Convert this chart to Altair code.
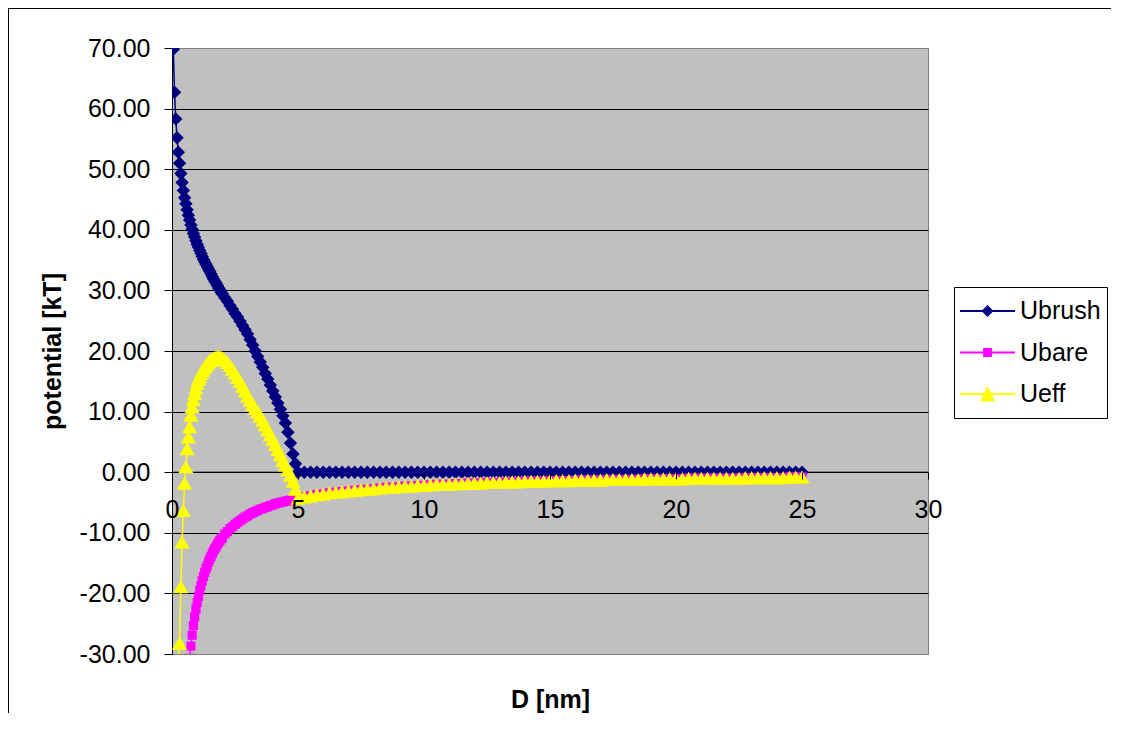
import altair as alt
import pandas as pd

# ---- data ----
D = [0.05, 0.1, 0.15, 0.2, 0.25, 0.3, 0.35, 0.4, 0.45, 0.5,
     0.55, 0.6, 0.65, 0.7, 0.75, 0.8, 0.85, 0.9, 0.95, 1.0,
     1.05, 1.1, 1.15, 1.2, 1.25, 1.3, 1.35, 1.4, 1.45, 1.5,
     1.55, 1.6, 1.65, 1.7, 1.75, 1.8, 1.85, 1.9, 1.95, 2.0,
     2.1, 2.2, 2.3, 2.4, 2.5, 2.6, 2.7, 2.8, 2.9, 3.0,
     3.1, 3.2, 3.3, 3.4, 3.5, 3.6, 3.7, 3.8, 3.9, 4.0,
     4.1, 4.2, 4.3, 4.4, 4.5, 4.6, 4.7, 4.8, 4.9, 5.0,
     5.25, 5.5, 5.75, 6.0, 6.25, 6.5, 6.75, 7.0, 7.25, 7.5,
     7.75, 8.0, 8.25, 8.5, 8.75, 9.0, 9.25, 9.5, 9.75, 10.0,
     10.25, 10.5, 10.75, 11.0, 11.25, 11.5, 11.75, 12.0, 12.25, 12.5,
     12.75, 13.0, 13.25, 13.5, 13.75, 14.0, 14.25, 14.5, 14.75, 15.0,
     15.25, 15.5, 15.75, 16.0, 16.25, 16.5, 16.75, 17.0, 17.25, 17.5,
     17.75, 18.0, 18.25, 18.5, 18.75, 19.0, 19.25, 19.5, 19.75, 20.0,
     20.25, 20.5, 20.75, 21.0, 21.25, 21.5, 21.75, 22.0, 22.25, 22.5,
     22.75, 23.0, 23.25, 23.5, 23.75, 24.0, 24.25, 24.5, 24.75, 25.0]

ubrush = [69.8, 62.7, 58.3, 55.2, 52.8, 51.0, 49.3, 47.8, 46.5, 45.3,
          44.3, 43.3, 42.4, 41.6, 40.8, 40.1, 39.4, 38.8, 38.2, 37.6,
          37.1, 36.6, 36.1, 35.6, 35.1, 34.7, 34.3, 33.9, 33.5, 33.1,
          32.7, 32.3, 31.9, 31.5, 31.2, 30.8, 30.4, 30.1, 29.7, 29.4,
          28.8, 28.2, 27.5, 26.9, 26.2, 25.6, 24.9, 24.2, 23.5, 22.8,
          21.9, 21.0, 20.0, 19.1, 18.2, 17.3, 16.3, 15.4, 14.4, 13.4,
          12.4, 11.4, 10.4, 9.3, 8.1, 6.6, 4.8, 3.0, 1.4, 0.0,
          0.0, 0.0, 0.0, 0.0, 0.0, 0.0, 0.0, 0.0, 0.0, 0.0,
          0.0, 0.0, 0.0, 0.0, 0.0, 0.0, 0.0, 0.0, 0.0, 0.0,
          0.0, 0.0, 0.0, 0.0, 0.0, 0.0, 0.0, 0.0, 0.0, 0.0,
          0.0, 0.0, 0.0, 0.0, 0.0, 0.0, 0.0, 0.0, 0.0, 0.0,
          0.0, 0.0, 0.0, 0.0, 0.0, 0.0, 0.0, 0.0, 0.0, 0.0,
          0.0, 0.0, 0.0, 0.0, 0.0, 0.0, 0.0, 0.0, 0.0, 0.0,
          0.0, 0.0, 0.0, 0.0, 0.0, 0.0, 0.0, 0.0, 0.0, 0.0,
          0.0, 0.0, 0.0, 0.0, 0.0, 0.0, 0.0, 0.0, 0.0, 0.0]

# Ubare starts at D = 0.65 (index 12)
ubare_near = [-33.1, -30.7, -28.7, -26.9, -25.3, -23.9, -22.6, -21.5,
              -20.5, -19.5, -18.7, -17.9, -17.2, -16.5, -15.9, -15.4, -14.8, -14.3,
              -13.9, -13.4, -13.0, -12.6, -12.3, -11.9, -11.6, -11.3, -11.0, -10.8,
              -10.2, -9.8, -9.3, -9.0, -8.6, -8.3, -8.0, -7.7, -7.4, -7.2,
              -6.9, -6.7, -6.5, -6.3, -6.1, -6.0, -5.8, -5.7, -5.5, -5.4,
              -5.2, -5.1, -5.0, -4.9, -4.8, -4.7, -4.6, -4.5, -4.4, -4.3]

# beyond D = 5 Ubare and Ueff coincide
far_tail = [-4.1, -3.9, -3.7, -3.6, -3.4, -3.3, -3.2, -3.1, -3.0, -2.9,
            -2.8, -2.7, -2.6, -2.5, -2.5, -2.4, -2.3, -2.3, -2.2, -2.2,
            -2.1, -2.0, -2.0, -2.0, -1.9, -1.9, -1.8, -1.8, -1.8, -1.7,
            -1.7, -1.7, -1.6, -1.6, -1.6, -1.5, -1.5, -1.5, -1.5, -1.4,
            -1.4, -1.4, -1.4, -1.3, -1.3, -1.3, -1.3, -1.3, -1.2, -1.2,
            -1.2, -1.2, -1.2, -1.2, -1.1, -1.1, -1.1, -1.1, -1.1, -1.1,
            -1.1, -1.0, -1.0, -1.0, -1.0, -1.0, -1.0, -1.0, -1.0, -1.0,
            -0.9, -0.9, -0.9, -0.9, -0.9, -0.9, -0.9, -0.8, -0.8, -0.8]

# Ueff starts at D = 0.25 (index 4)
ueff_near = [-31.5, -28.2, -18.9, -11.5, -6.3, -1.8, 0.9, 3.9, 5.8, 7.5,
             9.4, 10.8, 12.0, 13.0, 13.9, 14.7, 15.3, 15.8, 16.3, 16.7,
             17.1, 17.4, 17.7, 17.95, 18.2, 18.4, 18.55, 18.7, 18.8, 18.9,
             18.95, 19.0, 19.0, 19.0, 18.95, 18.85,
             18.5, 18.1, 17.6, 17.0, 16.4, 15.7, 15.0, 14.2, 13.4, 12.6,
             11.9, 11.2, 10.6, 10.0, 9.3, 8.6, 7.8, 7.0, 6.2, 5.4,
             4.6, 3.7, 2.9, 2.0, 1.2, 0.4, -0.5, -1.5, -2.8, -4.3]

series_names = ["Ubrush", "Ubare", "Ueff"]
series_colors = ["#000080", "#FF00FF", "#FFFF00"]
x_ticks = [0, 5, 10, 15, 20, 25, 30]
y_ticks = [-30, -20, -10, 0, 10, 20, 30, 40, 50, 60, 70]

df_brush = pd.DataFrame({"D": D, "U": ubrush})
df_bare = pd.DataFrame({"D": D[12:], "U": ubare_near + far_tail})
df_eff = pd.DataFrame({"D": D[4:], "U": ueff_near + far_tail})
df_leg = pd.DataFrame({"series": series_names})
df_one = pd.DataFrame({"k": [0]})

FONT = "Liberation Sans"

xs = alt.Scale(domain=[0, 30], nice=False, zero=False)
ys = alt.Scale(domain=[-30, 70], nice=False, zero=False)

x_axis = alt.Axis(values=x_ticks, format="d", offset=-182, domain=False,
                  tickSize=7, tickColor="black", labelPadding=18, labelFlush=False,
                  grid=False, zindex=1, title="D [nm]",
                  titleX=378, titleY=235, titleBaseline="alphabetic",
                  titleAlign="center")
y_axis = alt.Axis(values=y_ticks,
                  labelExpr="(datum.value < 0 ? '-' : '') + format(abs(datum.value), '.2f')",
                  tickSize=8, tickColor="black", labelPadding=14, labelFlush=False,
                  domainColor="black", grid=True,
                  gridColor={"condition": {"test": "datum.value === 70 || datum.value === -30",
                                           "value": "#808080"}, "value": "black"},
                  title="potential [kT]", titleX=-112, titleY=303,
                  titleAngle=-90, titleAlign="center", titleBaseline="alphabetic")

X = alt.X("D:Q", scale=xs, axis=x_axis)
Y = alt.Y("U:Q", scale=ys, axis=y_axis)

# outer chart-area frame: thin filled bars for its top and left edges
frame_left = alt.Chart(df_one).mark_rect(color="black", strokeWidth=0, clip=False).encode(
    x=alt.value(-164), x2=alt.value(-163), y=alt.value(-40), y2=alt.value(665))
frame_top = alt.Chart(df_one).mark_rect(color="black", strokeWidth=0, clip=False).encode(
    x=alt.value(-164), x2=alt.value(940), y=alt.value(-40), y2=alt.value(-39))

zero_line = alt.Chart(df_one).mark_rule(color="black", strokeWidth=1).encode(y=alt.datum(0, scale=ys))

def series_layers(df, color, shape, size):
    line = alt.Chart(df).mark_line(color=color, strokeWidth=1.5, clip=True).encode(x=X, y=Y)
    pts = alt.Chart(df).mark_point(shape=shape, filled=True, size=size, color=color,
                                   opacity=1, clip=True).encode(x=X, y=Y)
    return [line, pts]

# legend symbols: thin filled bar (the line) plus the marker, in units of sqrt(size)/2
legend_paths = [
    "M-1,-0.036H1V0.036H-1ZM0,-0.22L0.22,0L0,0.22L-0.22,0Z",
    "M-1,-0.036H1V0.036H-1ZM-0.16,-0.16H0.16V0.16H-0.16Z",
    "M-1,-0.036H1V0.036H-1ZM0,-0.29L0.27,0.27L-0.27,0.27Z",
]
leg = alt.Legend(orient="none", legendX=782, legendY=239, title=None, padding=6,
                 strokeColor="black", fillColor="white", labelFont=FONT,
                 labelFontSize=25, labelColor="black", labelOffset=5,
                 symbolSize=3025, symbolStrokeWidth=0, clipHeight=36,
                 rowPadding=5.5, labelLimit=300, cornerRadius=0)

# legend-only layer: its own points sit far outside the plot and are clipped away
legend_layer = alt.Chart(df_leg).mark_point(filled=True, opacity=1, size=3025, clip=True).encode(
    x=alt.value(-3000), y=alt.value(-3000),
    color=alt.Color("series:N", scale=alt.Scale(domain=series_names, range=series_colors), legend=leg),
    shape=alt.Shape("series:N", scale=alt.Scale(domain=series_names, range=legend_paths), legend=leg),
)

layers = [frame_left, frame_top, zero_line]
layers += series_layers(df_brush, series_colors[0], "diamond", 180)
layers += series_layers(df_bare, series_colors[1], "square", 85)
layers += series_layers(df_eff, series_colors[2], "triangle-up", 230)
layers += [legend_layer]

chart = alt.layer(*layers).properties(
    width=756, height=606,
    autosize=alt.AutoSizeParams(type="none"),
    padding={"left": 164, "top": 40, "right": 183, "bottom": 68},
    background="white",
).configure_view(
    stroke="#808080", fill="#C0C0C0"
).configure_axis(
    labelFont=FONT, labelFontSize=25, labelColor="black",
    titleFont=FONT, titleFontSize=25, titleFontWeight="bold", titleColor="black",
    domainColor="black"
)

chart.save("out.html", embed_options={"renderer": "svg", "actions": False})
